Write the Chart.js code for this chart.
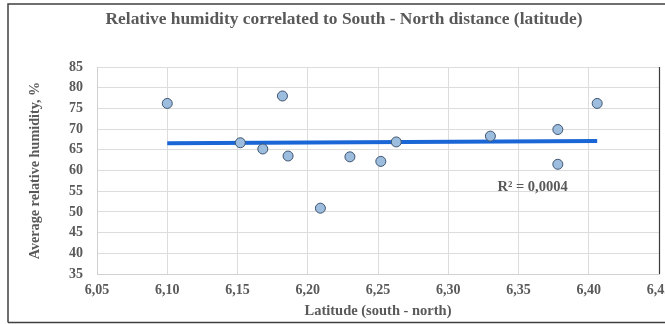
<!DOCTYPE html>
<html>
<head>
<meta charset="utf-8">
<script src="https://cdn.jsdelivr.net/npm/chart.js@4.4.1/dist/chart.umd.min.js"></script>
<style>
  html, body { margin: 0; padding: 0; background: #ffffff; }
  canvas { display: block; }
</style>
</head>
<body>
<canvas id="chart" width="665" height="324"></canvas>
<script>
// Station latitude (south - north) and average relative humidity, %
const latitude = [6.100, 6.152, 6.168, 6.182, 6.186, 6.209, 6.230, 6.252, 6.263, 6.330, 6.378, 6.378, 6.406];
const humidity = [76.2, 66.7, 65.2, 78.0, 63.5, 50.9, 63.3, 62.2, 66.9, 68.3, 69.9, 61.5, 76.2];
const rSquaredLabel = 'R² = 0,0004';
const rSquaredAt = { x: 6.360, y: 56 };

const titleText = 'Relative humidity correlated to South - North distance (latitude)';
const xTitle = 'Latitude (south - north)';
const yTitle = 'Average relative humidity, %';

// Least-squares linear trend over the observed latitude range
function linearTrend(xs, ys) {
  const n = xs.length;
  const mx = xs.reduce((a, b) => a + b, 0) / n;
  const my = ys.reduce((a, b) => a + b, 0) / n;
  let sxy = 0, sxx = 0;
  for (let i = 0; i < n; i++) {
    sxy += (xs[i] - mx) * (ys[i] - my);
    sxx += (xs[i] - mx) * (xs[i] - mx);
  }
  const slope = sxy / sxx;
  const icpt = my - slope * mx;
  const x0 = Math.min(...xs), x1 = Math.max(...xs);
  return [{ x: x0, y: icpt + slope * x0 }, { x: x1, y: icpt + slope * x1 }];
}

const points = latitude.map((x, i) => ({ x, y: humidity[i] }));
const trend = linearTrend(latitude, humidity);

const textGray = '#595959';
const serif = '"Liberation Serif", "Times New Roman", serif';

// Frame, heading over the framed area, darker right edge of the plot, R² annotation
const decorations = {
  id: 'decorations',
  beforeDraw(chart) {
    const c = chart.ctx;
    c.save();
    c.fillStyle = '#ffffff';
    c.fillRect(0, 0, chart.width, chart.height);
    c.restore();
  },
  afterDatasetsDraw(chart) {
    const c = chart.ctx;
    const a = chart.chartArea;
    const xs = chart.scales.x, ys = chart.scales.y;
    c.save();
    c.strokeStyle = '#3a3a3a';
    c.lineWidth = 1.2;
    c.beginPath();
    c.moveTo(a.right + 0.5, a.top);
    c.lineTo(a.right + 0.5, a.bottom);
    c.stroke();

    c.fillStyle = textGray;
    c.textAlign = 'center';
    c.textBaseline = 'middle';
    c.font = 'bold 17.4px ' + serif;
    c.fillText(titleText, 344, 20);

    c.font = 'bold 14.5px ' + serif;
    c.fillText(rSquaredLabel, xs.getPixelForValue(rSquaredAt.x), ys.getPixelForValue(rSquaredAt.y));

    c.strokeStyle = '#404040';
    c.lineWidth = 1.5;
    c.beginPath();
    c.moveTo(8, 322.5);
    c.lineTo(8, 4);
    c.lineTo(chart.width, 4);
    c.moveTo(8, 322.5);
    c.lineTo(chart.width, 322.5);
    c.stroke();
    c.restore();
  }
};

new Chart(document.getElementById('chart'), {
  type: 'scatter',
  data: {
    datasets: [
      {
        label: 'Trend',
        type: 'line',
        data: trend,
        borderColor: '#1a66d6',
        borderWidth: 4,
        pointRadius: 0,
        fill: false,
        order: 2
      },
      {
        label: 'Humidity',
        data: points,
        backgroundColor: '#9dbddf',
        borderColor: '#3f5470',
        borderWidth: 1,
        pointRadius: 5,
        pointHoverRadius: 5,
        order: 1
      }
    ]
  },
  options: {
    responsive: false,
    animation: false,
    layout: { padding: { top: 67, right: 0, bottom: 0, left: 0 } },
    plugins: {
      legend: { display: false },
      tooltip: { enabled: false },
      title: { display: false }
    },
    scales: {
      x: {
        type: 'linear',
        min: 6.05,
        max: 6.45,
        ticks: {
          stepSize: 0.05,
          color: textGray,
          padding: 8,
          font: { family: serif, size: 14, weight: 'bold' },
          callback: v => v.toFixed(2).replace('.', ',')
        },
        grid: { color: '#dcdcdc', drawTicks: false },
        border: { color: '#d0d0d0' },
        title: {
          display: true,
          text: xTitle,
          color: textGray,
          font: { family: serif, size: 14.5, weight: 'bold' },
          padding: { top: 0, bottom: 4.5 }
        },
        afterFit(s) { s.height = 50; s.paddingLeft = 0; s.paddingRight = 0; }
      },
      y: {
        min: 35,
        max: 85,
        ticks: {
          stepSize: 5,
          color: textGray,
          padding: 14,
          font: { family: serif, size: 14, weight: 'bold' }
        },
        grid: { color: '#dcdcdc', drawTicks: false },
        border: { color: '#d0d0d0' },
        title: {
          display: true,
          text: yTitle,
          color: textGray,
          font: { family: serif, size: 14.2, weight: 'bold' },
          padding: { top: 27, bottom: 0 }
        },
        afterFit(s) { s.width = 97; }
      }
    }
  },
  plugins: [decorations]
});
</script>
</body>
</html>
